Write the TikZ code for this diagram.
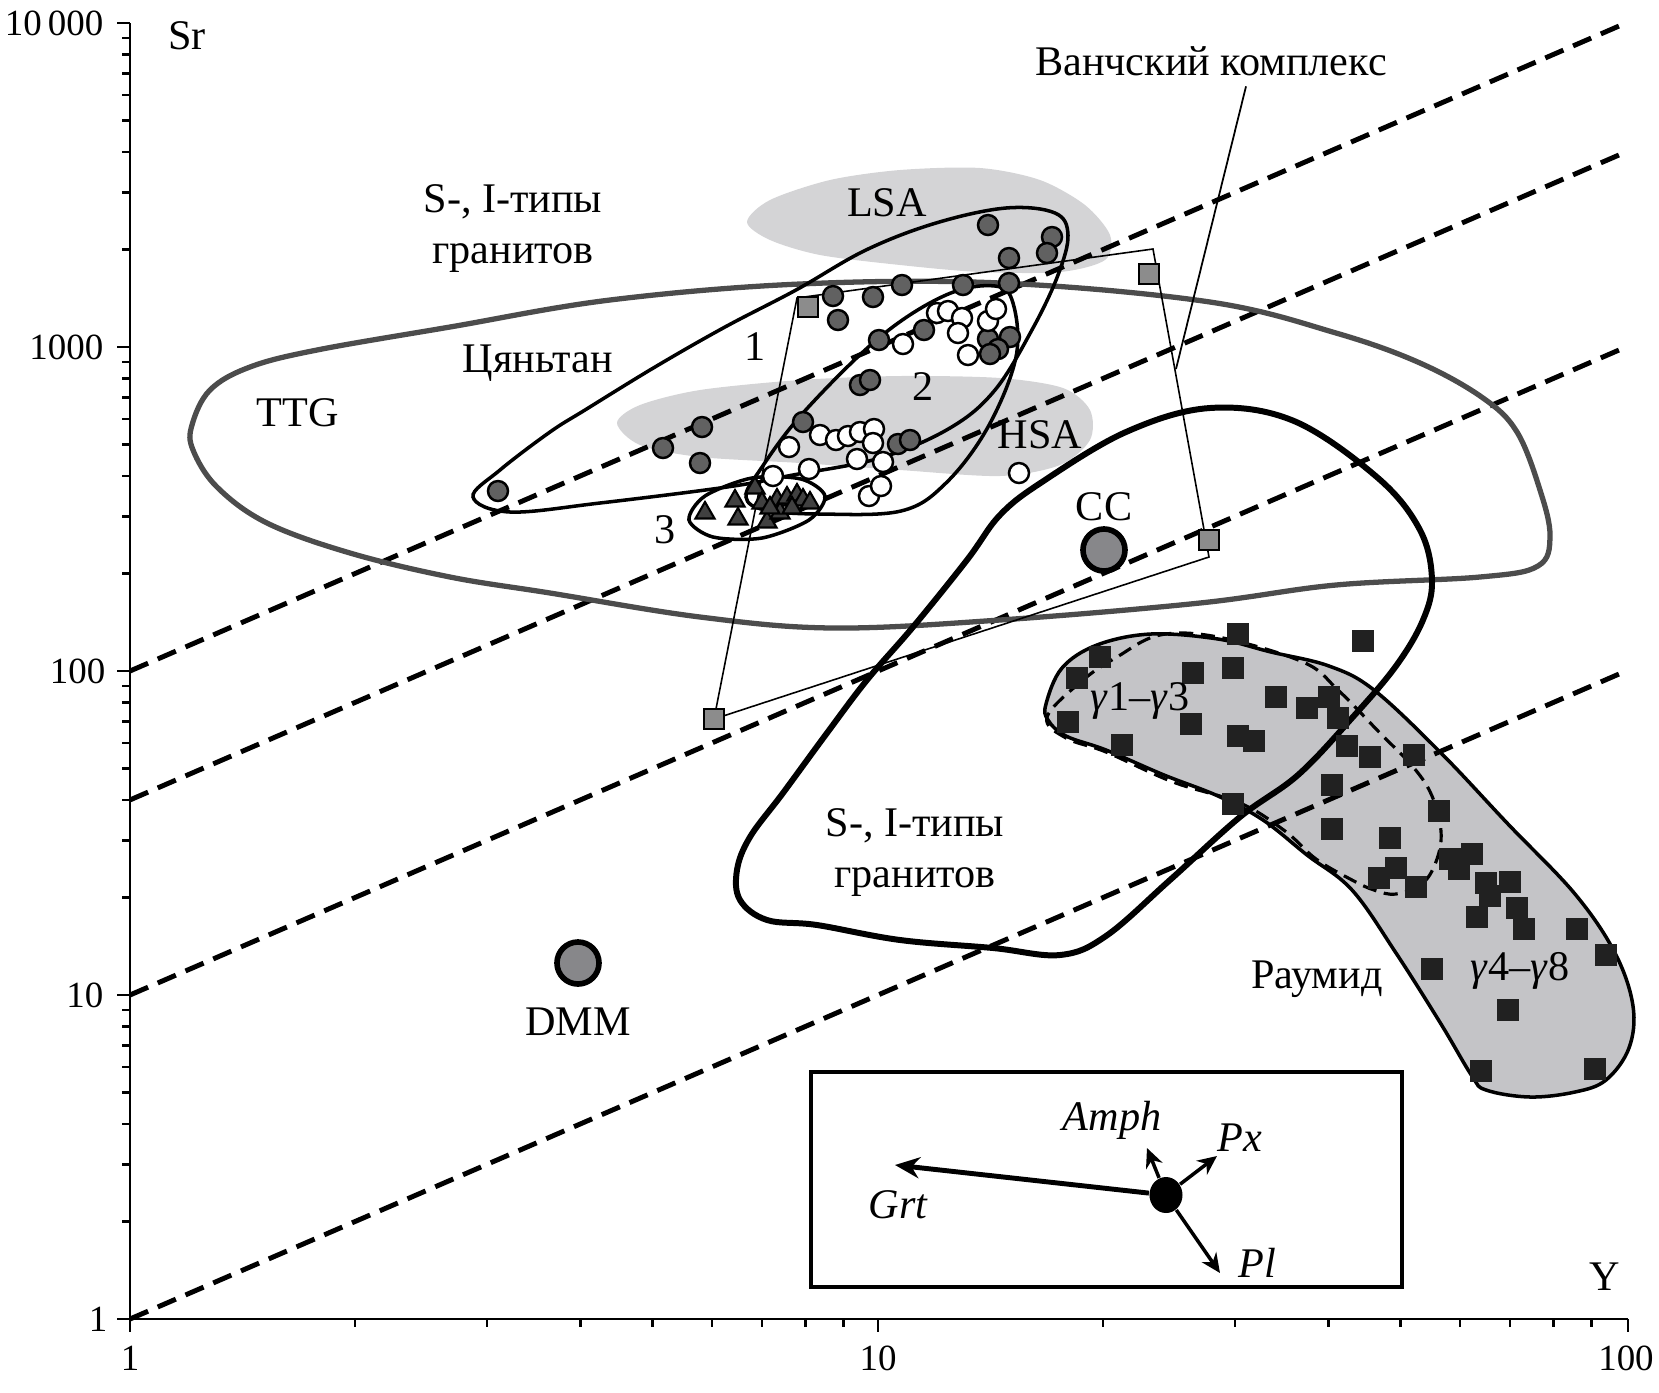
\documentclass[tikz,border=0pt]{standalone}
\usepackage{fontspec}
\setmainfont{Liberation Serif}
\usetikzlibrary{arrows.meta,shapes.geometric,positioning}
\definecolor{lightfield}{rgb}{0.83,0.83,0.84}
\definecolor{bandfill}{rgb}{0.77,0.77,0.78}
\definecolor{ttgline}{rgb}{0.30,0.30,0.30}
\definecolor{endmember}{rgb}{0.53,0.53,0.54}
\tikzset{
  axis/.style={draw=black, line width=0.75pt},
  ratio/.style={draw=black, line width=1.4pt, dash pattern=on 5.6pt off 3pt},
  ttg/.style={draw=ttgline, line width=1.5pt},
  sigran/.style={draw=black, line width=1.7pt},
  field/.style={draw=black, line width=1pt},
  gfield/.style={draw=black, line width=0.9pt, dash pattern=on 4pt off 2.2pt},
  blob/.style={fill=lightfield, draw=none},
  band/.style={fill=bandfill, draw=black, line width=1pt},
  vanch/.style={draw=black, line width=0.45pt},
  darkpt/.style={circle, draw=black, fill=black!62, line width=0.7pt, minimum size=0.2cm, inner sep=0pt},
  whitept/.style={circle, draw=black, fill=white, line width=0.7pt, minimum size=0.2cm, inner sep=0pt},
  trpt/.style={regular polygon, regular polygon sides=3, draw=black, fill=black!75, line width=0.6pt, minimum size=0.22cm, inner sep=0pt},
  sqpt/.style={rectangle, fill=black!87, minimum size=0.22cm, inner sep=0pt},
  vanpt/.style={rectangle, draw=black, fill=black!45, line width=0.6pt, minimum size=0.2cm, inner sep=0pt},
  endpt/.style={circle, draw=black, fill=endmember, line width=1.6pt, minimum size=0.42cm, inner sep=0pt},
  lab/.style={font=\fontsize{12}{14.5}\selectfont, inner sep=0pt, align=center},
  ticklab/.style={font=\fontsize{10.5}{12}\selectfont, inner sep=0pt},
  mineral/.style={font=\fontsize{12}{14}\selectfont\itshape, inner sep=0pt},
  vec/.style={draw=black, line width=1pt, -{Stealth[length=5.5pt,width=5pt]}},
  leader/.style={draw=black, line width=0.5pt}
}

\begin{document}
\begin{tikzpicture}[x=0.01cm, y=-0.01cm]
  \useasboundingbox (0,0) rectangle (1659,1393);

  % LSA, HSA and the Raumid band
  \fill[blob] plot[smooth cycle] coordinates {(747,222) (770,200) (830,180) (900,170) (980,168) (1040,180) (1085,205) (1110,235) (1105,260) (1060,272) (980,272) (900,265) (820,255) (770,240)};
  \fill[blob] plot[smooth cycle] coordinates {(617,423) (640,405) (700,390) (800,380) (900,376) (1000,378) (1063,388) (1090,410) (1090,440) (1060,465) (1000,476) (900,470) (800,463) (700,457) (640,445)};
  \path[band] plot[smooth cycle, tension=0.6] coordinates {(1046,704) (1062,668) (1097,645) (1151,634) (1218,639) (1271,652) (1329,666) (1374,690) (1441,753) (1508,824) (1575,894) (1615,953) (1633,1006) (1629,1048) (1606,1080) (1575,1092) (1530,1097) (1486,1090) (1472,1076) (1441,1024) (1396,953) (1352,890) (1307,855) (1263,820) (1218,796) (1164,775) (1106,750) (1066,736) (1048,720)};

  % axes
  \draw[axis] (130,23) -- (130,1319) -- (1628,1319);
  \foreach \d in {0,1,2,3}{
    \draw[axis] (130,{1319-324*\d}) -- ++(-13,0);
    \foreach \i in {2,...,9}
      \draw[axis] (130,{1319-324*(\d+ln(\i)/ln(10))}) -- ++(-8,0);
  }
  \draw[axis] (130,23) -- ++(-13,0);
  \foreach \d in {0,1}{
    \draw[axis] ({130+748*\d},1319) -- ++(0,13);
    \foreach \i in {2,...,9}
      \draw[axis] ({130+748*(\d+ln(\i)/ln(10))},1319) -- ++(0,8);
  }
  \draw[axis] (1628,1319) -- ++(0,13);

  \node[ticklab, anchor=east] (t4) at (104,23) {10\,000};
  \node[ticklab, anchor=east] (t3) at (104,347) {1000};
  \node[ticklab, anchor=east] (t2) at (106,671) {100};
  \node[ticklab, anchor=east] (t1) at (104,995) {10};
  \node[ticklab, anchor=east] (t0) at (108,1319) {1};
  \node[ticklab, anchor=north] (b0) at (130,1345) {1};
  \node[ticklab, anchor=north] (b1) at (878,1345) {10};
  \node[ticklab, anchor=north] (b2) at (1626,1345) {100};
  \node[lab] (sr) at (187,36) {Sr};
  \node[lab] (ylab) at (1605,1277) {Y};

  % Sr/Y = 1, 10, 40, 100
  \foreach \r in {1,10,40,100}
    \draw[ratio] (130,{1319-324*ln(\r)/ln(10)}) -- (1626,{1319-324*(2+ln(\r)/ln(10))});

  % fields
  \draw[ttg] plot[smooth cycle, tension=0.6] coordinates {(192,425) (210,390) (250,367) (317,350) (450,327) (610,300) (800,284) (1000,283) (1210,302) (1336,333) (1420,363) (1483,398) (1517,432) (1540,490) (1550,536) (1538,566) (1480,577) (1336,585) (1200,603) (1000,620) (833,628) (700,617) (550,593) (450,577) (350,553) (267,523) (217,487) (193,450)};
  \draw[sigran] plot[smooth cycle, tension=0.6] coordinates {(1210,408) (1294,421) (1378,478) (1420,530) (1432,580) (1423,620) (1396,666) (1352,718) (1298,775) (1240,817) (1170,880) (1106,936) (1060,955) (993,948) (900,940) (817,925) (767,920) (740,900) (737,870) (750,837) (783,793) (827,733) (867,680) (913,627) (967,560) (1000,515) (1042,482) (1126,432)};
  \draw[field] plot[smooth cycle, tension=0.6] coordinates {(473,497) (500,470) (550,432) (585,410) (655,367) (725,327) (796,290) (866,250) (936,223) (1006,208) (1055,213) (1068,235) (1058,275) (1033,328) (995,390) (950,428) (880,458) (793,475) (727,487) (600,503) (510,512)};
  \draw[field] plot[smooth cycle, tension=0.6] coordinates {(746,497) (760,470) (803,413) (880,337) (946,295) (995,286) (1013,303) (1016,357) (988,427) (946,483) (901,511) (820,514) (765,510)};
  \draw[field] plot[smooth cycle] coordinates {(825,496) (809,520) (762,538) (713,537) (689,520) (705,496) (752,478) (801,479)};
  \draw[gfield] plot[smooth cycle, tension=0.6] coordinates {(1047,717) (1083,680) (1117,657) (1160,635) (1218,637) (1303,662) (1338,690) (1379,732) (1414,768) (1432,796) (1441,831) (1437,859) (1423,883) (1396,894) (1374,890) (1352,880) (1316,859) (1285,831) (1240,803) (1173,782) (1106,752) (1066,738)};

  \coordinate (v1) at (797,298);
  \coordinate (v2) at (1153,249);
  \coordinate (v3) at (1209,557);
  \coordinate (v4) at (714,719);
  \draw[vanch] (v1) -- (v2) -- (v3) -- (v4) -- cycle;

  % samples
  \foreach \p [count=\i] in {(498,491),(663,448),(702,427),(700,463),(803,422),(833,296),(873,297),(838,320),(902,285),(963,285),(988,225),(1052,237),(1047,253),(1009,258),(1009,283),(879,340),(924,330),(988,339),(1010,337),(998,349),(990,354),(860,385),(870,380),(898,444),(910,440)}
    \node[darkpt] (d\i) at \p {};
  \foreach \p [count=\i] in {(937,313),(948,311),(962,318),(988,321),(996,309),(958,333),(903,344),(968,355),(789,447),(820,435),(836,440),(848,436),(860,432),(874,429),(873,443),(857,459),(883,462),(809,469),(869,496),(881,486),(773,476),(1019,473)}
    \node[whitept] (w\i) at \p {};
  \foreach \p [count=\i] in {(705,513),(735,501),(738,519),(755,488),(762,503),(767,522),(777,500),(780,513),(787,498),(797,495),(803,500),(810,503),(770,508),(792,508)}
    \node[trpt] (tr\i) at \p {};
  \foreach \p [count=\i] in {(1238,634),(1363,641),(1100,657),(1077,678),(1193,673),(1233,668),(1276,697),(1307,708),(1329,697),(1338,718),(1068,722),(1191,724),(1238,736),(1254,741),(1122,745),(1347,746),(1370,757),(1414,755),(1332,785),(1439,811),(1233,804),(1332,829),(1390,838),(1450,859),(1472,854),(1396,868),(1379,878),(1416,887),(1459,869),(1486,883),(1510,882),(1490,896),(1517,908),(1477,917),(1524,929),(1577,929),(1606,955),(1432,969),(1508,1010),(1481,1071),(1595,1069)}
    \node[sqpt] (s\i) at \p {};
  \foreach \p [count=\i] in {(808,307),(1149,274),(1209,540),(714,719)}
    \node[vanpt] (q\i) at \p {};

  \node[endpt] (dmm) at (578,963) {};
  \node[endpt] (cc) at (1104,550) {};
  \node[lab, below=0.2cm of dmm] (dmmlab) {DMM};
  \node[lab, above=0.05cm of cc] (cclab) {CC};

  % labels
  \node[lab] (vanchlab) at (1211,61) {Ванчский комплекс};
  \coordinate (vtip) at (1176,369);
  \draw[leader] ([xshift=0.35cm, yshift=-0.1cm]vanchlab.south) -- (vtip);
  \node[lab] (si1) at (513,229) {S-, I-типы\\гранитов};
  \node[lab] (qt) at (538,363) {Цяньтан};
  \node[lab] (ttglab) at (298,413) {TTG};
  \node[lab] (lsa) at (887,203) {LSA};
  \node[lab] (hsa) at (1040,435) {HSA};
  \node[lab] (f1) at (755,347) {1};
  \node[lab] (f2) at (923,387) {2};
  \node[lab] (f3) at (665,530) {3};
  \node[lab] (si2) at (915,853) {S-, I-типы\\гранитов};
  \node[lab] (g13) at (1140,701) {\textit{γ}1–\textit{γ}3};
  \node[lab] (g48) at (1520,971) {\textit{γ}4–\textit{γ}8};
  \node[lab] (raumid) at (1317,979) {Раумид};

  % mineral vectors
  \draw[line width=1.1pt] (811,1072) rectangle (1402,1287);
  \node[ellipse, fill=black, minimum width=0.33cm, minimum height=0.36cm, inner sep=0pt] (mix) at (1166,1195) {};
  \coordinate (tgrt) at (895,1165);
  \coordinate (tamph) at (1147,1148);
  \coordinate (tpx) at (1217,1156);
  \coordinate (tpl) at (1220,1273);
  \draw[vec, line width=1.4pt, -{Stealth[length=7pt,width=6pt]}] (mix) -- (tgrt);
  \draw[vec] (mix) -- (tamph);
  \draw[vec] (mix) -- (tpx);
  \draw[vec] (mix) -- (tpl);
  \node[mineral] (grt) at (898,1205) {Grt};
  \node[mineral] (amph) at (1112,1120) {Amph};
  \node[mineral] (px) at (1240,1138) {Px};
  \node[mineral] (pl) at (1257,1263) {Pl};
\end{tikzpicture}
\end{document}
